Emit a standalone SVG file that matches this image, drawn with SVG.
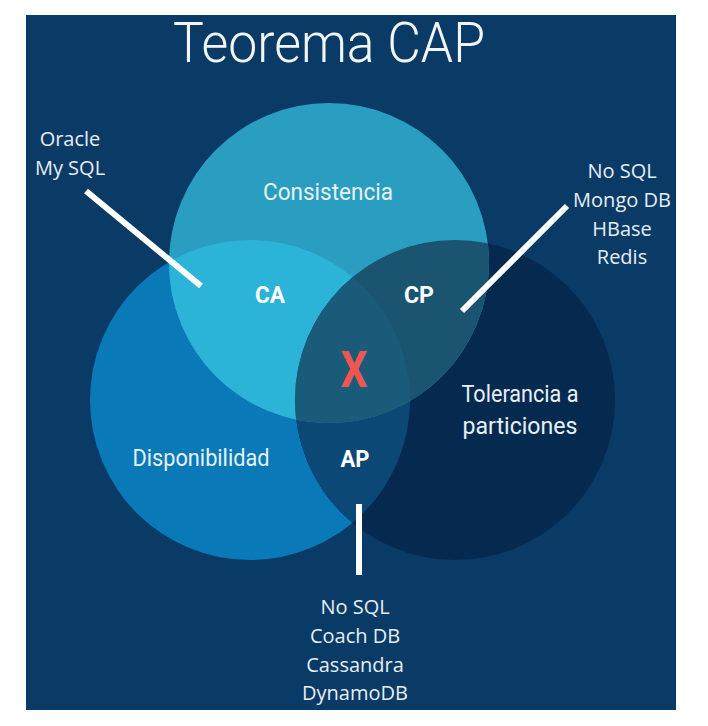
<svg xmlns="http://www.w3.org/2000/svg" width="708" height="726" viewBox="0 0 708 726">
<style>
.lbl{font-family:Roboto,"Liberation Sans",sans-serif;font-weight:400;fill:#e6f1f5;font-size:23px;text-anchor:middle}
.big{font-family:Roboto,"Liberation Sans",sans-serif;font-weight:700;fill:#ffffff;font-size:24px;text-anchor:middle}
.lst{font-family:"Open Sans","Noto Sans","Liberation Sans",sans-serif;fill:#e6eef3;font-size:20px;text-anchor:middle}
.ln{stroke:#ffffff;stroke-width:6;fill:none}
</style>
<defs>
<clipPath id="cL"><circle cx="250" cy="400" r="160"/></clipPath>
<clipPath id="cR"><circle cx="455" cy="400" r="160"/></clipPath>
</defs>
<rect x="0" y="0" width="708" height="726" fill="#ffffff"/>
<rect x="26" y="15" width="650" height="695" fill="#0a3a66"/>
<text x="329" y="62" font-family="Roboto,'Liberation Sans',sans-serif" font-weight="300" font-size="56" fill="#f2f6f9" text-anchor="middle" textLength="312" lengthAdjust="spacingAndGlyphs">Teorema CAP</text>
<g id="disponibilidad"><circle cx="250" cy="400" r="160" fill="#0979b8"/></g>
<g id="tolerancia"><circle cx="455" cy="400" r="160" fill="#062a4f"/></g>
<g id="consistencia"><circle cx="329" cy="263" r="160" fill="#2a9ec0"/></g>
<g id="ap-region"><circle cx="455" cy="400" r="160" fill="#0c4876" clip-path="url(#cL)"/></g>
<g id="ca-region"><circle cx="329" cy="263" r="160" fill="#2bb4d7" clip-path="url(#cL)"/></g>
<g id="cp-region"><circle cx="329" cy="263" r="160" fill="#1a5470" clip-path="url(#cR)"/></g>
<g id="cap-region" clip-path="url(#cR)"><circle cx="329" cy="263" r="160" fill="#1b5b7a" clip-path="url(#cL)"/></g>
<g id="labels">
<text class="lbl" x="328" y="200" textLength="130" lengthAdjust="spacingAndGlyphs">Consistencia</text>
<text class="lbl" x="201" y="466" textLength="137" lengthAdjust="spacingAndGlyphs">Disponibilidad</text>
<text class="lbl" x="520" y="402" textLength="117" lengthAdjust="spacingAndGlyphs">Tolerancia a</text>
<text class="lbl" x="520" y="434" textLength="115" lengthAdjust="spacingAndGlyphs">particiones</text>
<text class="big" x="270" y="303" textLength="30" lengthAdjust="spacingAndGlyphs">CA</text>
<text class="big" x="419" y="303" textLength="30" lengthAdjust="spacingAndGlyphs">CP</text>
<text class="big" x="355" y="467" textLength="29" lengthAdjust="spacingAndGlyphs">AP</text>
<text x="354" y="387" font-family="Roboto,'Liberation Sans',sans-serif" font-weight="700" font-size="50" fill="#ee5650" text-anchor="middle" textLength="27" lengthAdjust="spacingAndGlyphs">X</text>
</g>
<g id="connectors">
<line class="ln" x1="86" y1="191" x2="201" y2="286"/>
<line class="ln" x1="567" y1="206" x2="462" y2="311"/>
<line class="ln" x1="359" y1="504" x2="359" y2="575"/>
</g>
<g id="ca-list">
<text class="lst" x="70" y="146">Oracle</text>
<text class="lst" x="70" y="175">My SQL</text>
</g>
<g id="cp-list">
<text class="lst" x="622" y="178">No SQL</text>
<text class="lst" x="622" y="207">Mongo DB</text>
<text class="lst" x="622" y="236">HBase</text>
<text class="lst" x="622" y="264">Redis</text>
</g>
<g id="ap-list">
<text class="lst" x="355" y="614">No SQL</text>
<text class="lst" x="355" y="643">Coach DB</text>
<text class="lst" x="355" y="672">Cassandra</text>
<text class="lst" x="355" y="700">DynamoDB</text>
</g>
</svg>
